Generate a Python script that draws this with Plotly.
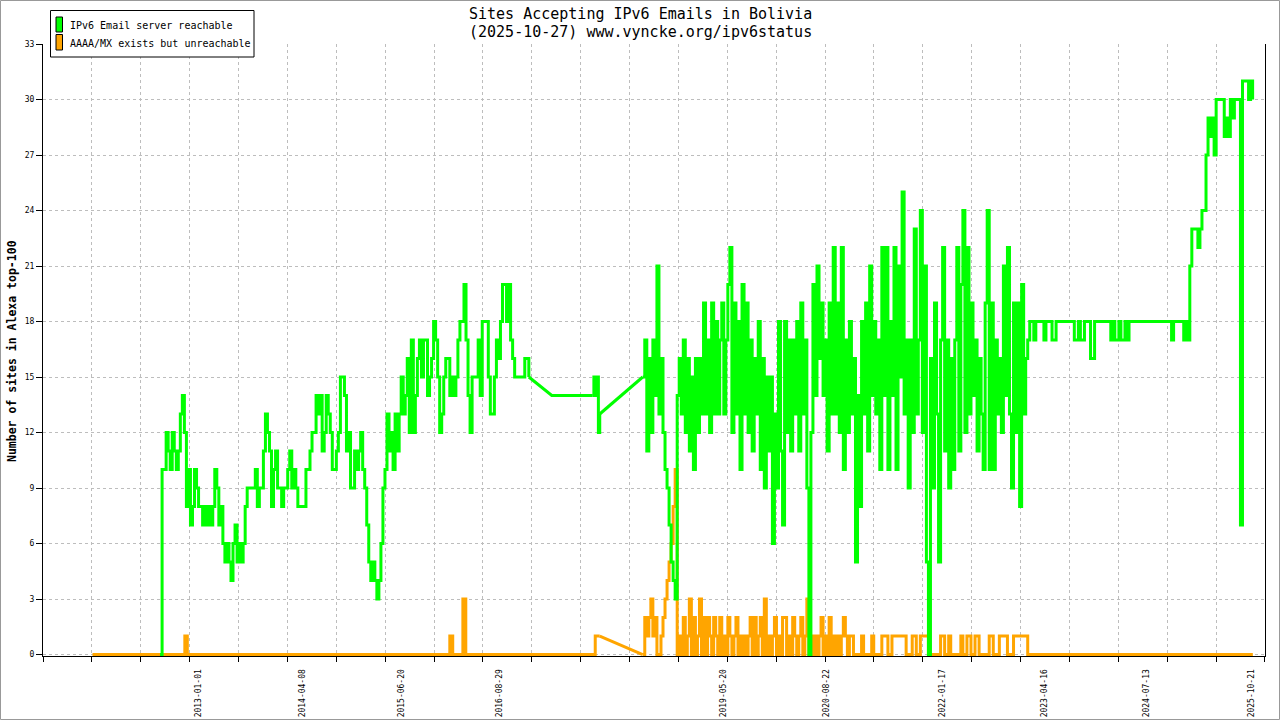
import pandas as pd
import plotly.graph_objects as go

# IPv6 email reachability, Bolivia, Alexa top-100
# dense parts are sampled every 9 days, gaps in the record are bridged linearly
STEP = "9D"

# green series: IPv6 Email server reachable
green_lead_dates = ["2012-07-13"]
green_lead = [0]

g1_start = "2012-07-22"
g1 = [10, 10, 12, 11, 10, 12, 11, 10, 11, 13,
      14, 12, 8, 10, 7, 8, 10, 9, 8, 8,
      7, 8, 7, 8, 7, 8, 10, 9, 7, 8,
      6, 5, 6, 5, 4, 6, 7, 5, 6, 5,
      6, 8, 9, 9, 9, 9, 10, 8, 9, 9,
      11, 13, 12, 11, 8, 10, 11, 9, 9, 8,
      9, 9, 10, 11, 9, 10, 9, 8, 8, 8,
      8, 10, 10, 11, 12, 12, 14, 13, 14, 11,
      12, 14, 13, 12, 10, 10, 11, 12, 15, 15,
      14, 11, 12, 9, 9, 11, 10, 11, 12, 10,
      9, 7, 5, 4, 5, 4, 3, 4, 6, 9,
      10, 13, 11, 12, 10, 13, 11, 13, 15, 13,
      14, 16, 12, 17, 12, 14, 16, 17, 15, 17,
      17, 14, 15, 16, 18, 17, 15, 12, 13, 15,
      16, 16, 14, 15, 14, 15, 17, 18, 18, 20,
      17, 14, 12, 15, 15, 15, 17, 14, 18, 18,
      18, 15, 13, 13, 15, 17, 16, 18, 20, 20,
      18, 20, 17, 16, 15, 15, 15, 15, 15, 16,
      16, 15]

gap_dates = ["2017-04-18"]
gap_values = [14]

g2_dates = ["2017-10-17", "2017-10-22", "2017-10-27", "2017-11-01",
            "2017-11-06", "2017-11-11", "2017-11-17"]
g2 = [14, 15, 14, 15, 15, 12, 13]

g3_start = "2018-05-27"
g3 = [15, 17, 11, 16, 12, 17, 14, 21, 13, 16,
      12, 10, 9, 7, 5, 4, 3, 14, 16, 13,
      17, 12, 16, 11, 15, 10, 16, 12, 16, 13,
      19, 13, 17, 12, 19, 13, 18, 13, 17, 19,
      13, 17, 20, 22, 12, 19, 13, 18, 10, 20,
      13, 19, 12, 17, 11, 16, 13, 18, 10, 16,
      9, 15, 11, 15, 6, 13, 9, 18, 11, 7,
      18, 12, 17, 11, 17, 13, 18, 11, 19, 13,
      17, 9, 0, 12, 20, 14, 21, 16, 19, 14,
      17, 11, 19, 13, 22, 13, 19, 12, 22, 10,
      17, 12, 18, 13, 16, 5, 14, 8, 18, 13,
      19, 11, 21, 14, 18, 13, 17, 10, 22, 14,
      22, 10, 18, 14, 22, 10, 21, 15, 25, 13,
      17, 9, 17, 12, 23, 13, 17, 24, 12, 21,
      5, 0, 16, 9, 19, 13, 5, 17, 22, 11,
      17, 9, 16, 10, 17, 22, 11, 20, 24, 12,
      22, 13, 19, 14, 17, 11, 16, 13, 10, 19,
      24, 10, 19, 10, 17, 13, 16, 12, 21, 14,
      22, 13, 9, 19, 12, 19, 8, 20, 13, 16,
      17, 18]

g4_start = "2023-02-18"
g4 = [18, 17, 18, 18, 18, 18, 17, 18, 18, 18,
      17, 17, 18, 18, 18, 18, 18, 18, 18, 18,
      18, 17, 17, 18, 17, 17, 18, 18, 18, 16,
      16, 18, 18, 18, 18, 18, 18, 18, 18, 17,
      18, 17, 17, 18, 17, 17, 18, 17, 18, 18,
      18, 18, 18, 18, 18, 18, 18, 18, 18, 18,
      18, 18, 18, 18, 18, 18, 18, 18, 18, 17,
      18, 18, 18, 18, 18, 17, 18, 17, 21, 23,
      23, 23, 22, 23, 24, 24, 27, 29, 28, 29,
      27, 30, 30, 30, 30, 28, 29, 28, 30, 29,
      30, 30, 30, 7, 31, 31, 31, 30, 31, 30]

# orange series: AAAA/MX exists but unreachable
o1_dates = ["2011-09-17", "2012-10-31", "2012-11-11", "2016-01-21", "2016-02-03",
            "2016-03-19", "2016-04-01", "2017-10-28", "2017-11-17"]
o1 = [0, 1, 0, 1, 0, 3, 0, 1, 1]

o3_start = "2018-05-27"
o3 = [0, 2, 1, 2, 3, 1, 2, 0, 0, 1,
      2, 3, 4, 5, 6, 8, 10, 0, 1, 0,
      2, 0, 1, 3, 0, 2, 0, 1, 3, 0,
      2, 0, 2, 1, 0, 2, 1, 0, 2, 0,
      1, 0, 2, 1, 0, 1, 2, 0, 1, 0,
      1, 0, 1, 2, 0, 2, 0, 1, 2, 0,
      3, 0, 1, 0, 1, 2, 0, 1, 0, 2,
      2, 0, 1, 0, 2, 1, 0, 1, 2, 0,
      1, 3, 0, 1, 0, 1, 0, 1, 2, 0,
      1, 0, 2, 0, 1, 0, 1, 0, 1, 2,
      1, 0, 1, 1, 0, 0, 0, 0, 1, 0,
      0, 0, 0, 1, 0, 0, 0, 0, 1, 1,
      1, 0, 0, 1, 1, 1, 1, 1, 1, 1,
      0, 0, 0, 1, 1, 0, 0, 1, 1, 1,
      1, 0, 0, 0, 0, 0, 0, 1, 1, 0,
      0, 1, 0, 0, 0, 0, 0, 1, 0, 0,
      1, 1, 0, 0, 1, 1, 0, 0, 0, 0,
      0, 1, 1, 0, 0, 0, 1, 1, 1, 1,
      0, 0, 0, 1, 1, 1, 1, 1, 1, 1,
      0, 0]

o_tail_dates = ["2025-10-27"]
o_tail = [0]

tick_dates = ["2013-01-01", "2014-04-08", "2015-06-20", "2016-08-29", "2019-05-20",
              "2020-08-22", "2022-01-17", "2023-04-16", "2024-07-13", "2025-10-21"]

GREEN = "#00ff00"
ORANGE = "#ffa500"
MONO = "DejaVu Sans Mono"


def days(start, n):
    return list(pd.date_range(start, periods=n, freq=STEP).strftime("%Y-%m-%d"))


g1_d = days(g1_start, len(g1))
g3_d = days(g3_start, len(g3))
g4_d = days(g4_start, len(g4))
o3_d = days(o3_start, len(o3))

green_x = green_lead_dates + g1_d + [None] + g2_dates + [None] + g3_d + g4_d
green_y = green_lead + g1 + [None] + g2 + [None] + g3 + g4

orange_x = o1_dates + [None] + o3_d + o_tail_dates
orange_y = o1 + [None] + o3 + o_tail

# page geometry (pixels) -> paper coordinates
L, R, T, B = 43, 15, 44, 64
W, H = 1280, 720
# the captured figure came out 10px shorter than asked, so ask for 10px more
H_ASK = H + 10


def px(x):
    return (x - L) / (W - L - R)


def py(y):
    return (H - B - y) / (H - T - B)


fig = go.Figure()

fig.add_trace(go.Scatter(x=orange_x, y=orange_y, mode="lines", line_shape="hv",
                         line=dict(color=ORANGE, width=3), showlegend=False,
                         hoverinfo="skip"))
fig.add_trace(go.Scatter(x=[o1_dates[-1], o3_d[0]], y=[o1[-1], o3[0]], mode="lines",
                         line=dict(color=ORANGE, width=3), showlegend=False,
                         hoverinfo="skip"))
fig.add_trace(go.Scatter(x=[g1_d[-1], gap_dates[0], g2_dates[0], None, g2_dates[-1], g3_d[0]],
                         y=[g1[-1], gap_values[0], g2[0], None, g2[-1], g3[0]],
                         mode="lines", line=dict(color=GREEN, width=3),
                         showlegend=False, hoverinfo="skip"))
fig.add_trace(go.Scatter(x=green_x, y=green_y, mode="lines", line_shape="hv",
                         line=dict(color=GREEN, width=3), showlegend=False,
                         hoverinfo="skip"))

fig.update_xaxes(
    type="date", range=["2011-02-09", "2025-12-20"],
    tickmode="array", tickvals=tick_dates, ticktext=tick_dates,
    tickangle=-90, ticks="", ticklabelstandoff=9,
    tickfont=dict(family=MONO, size=8, color="black"),
    showgrid=False, showline=True, linecolor="black", linewidth=1,
    layer="below traces", zeroline=False,
    minor=dict(tick0="2011-02-09", dtick=217.1 * 86400000, ticks="outside",
               ticklen=5, tickcolor="black", showgrid=True,
               gridcolor="#bdbdbd", griddash="dot", gridwidth=1),
)
fig.update_yaxes(
    range=[-0.08, 33], tick0=0, dtick=3, ticks="outside", ticklen=6,
    tickcolor="black", tickfont=dict(family=MONO, size=8, color="black"),
    showgrid=True, gridcolor="#bdbdbd", griddash="dot", gridwidth=1,
    showline=True, linecolor="black", linewidth=1, mirror=True,
    layer="below traces", zeroline=False,
)

shapes = [
    # outer frame
    dict(type="rect", xref="paper", yref="paper", x0=px(0.5), x1=px(1279.5),
         y0=py(719.5), y1=py(0.5), line=dict(color="#999999", width=1)),
    # legend box and swatches
    dict(type="rect", xref="paper", yref="paper", x0=px(50.5), x1=px(254),
         y0=py(57), y1=py(10.5), fillcolor="white", line=dict(color="black", width=1)),
    dict(type="rect", xref="paper", yref="paper", x0=px(56), x1=px(62.5),
         y0=py(32), y1=py(17), fillcolor=GREEN, line=dict(color="black", width=1)),
    dict(type="rect", xref="paper", yref="paper", x0=px(56), x1=px(62.5),
         y0=py(50), y1=py(34.5), fillcolor=ORANGE, line=dict(color="black", width=1)),
]

annotations = [
    dict(text="Sites Accepting IPv6 Emails in Bolivia", x=px(640), y=py(14),
         font=dict(family=MONO, size=15, color="black")),
    dict(text="(2025-10-27) www.vyncke.org/ipv6status", x=px(640), y=py(32),
         font=dict(family=MONO, size=15, color="black")),
    dict(text="<b>Number of sites in Alexa top-100</b>", x=px(12), y=py(351),
         textangle=-90, font=dict(family=MONO, size=11.5, color="black")),
    dict(text="IPv6 Email server reachable", x=px(68), y=py(25.5), xanchor="left",
         font=dict(family=MONO, size=10, color="black")),
    dict(text="AAAA/MX exists but unreachable", x=px(68), y=py(43), xanchor="left",
         font=dict(family=MONO, size=10, color="black")),
]
for a in annotations:
    a.update(xref="paper", yref="paper", showarrow=False)
    a.setdefault("xanchor", "center")
    a["yanchor"] = "middle"

fig.update_layout(
    width=W, height=H_ASK, autosize=False, margin=dict(l=L, r=R, t=T, b=B + H_ASK - H),
    paper_bgcolor="white", plot_bgcolor="white",
    showlegend=False, shapes=shapes, annotations=annotations,
)

# the page body has a default 8px margin; drop it so the figure fills the window
fig.write_html(
    "out.html",
    config={"displayModeBar": False, "responsive": False},
    default_width="%dpx" % W, default_height="%dpx" % H_ASK,
    post_script="document.body.style.margin='0px';document.body.style.overflow='hidden';",
)
